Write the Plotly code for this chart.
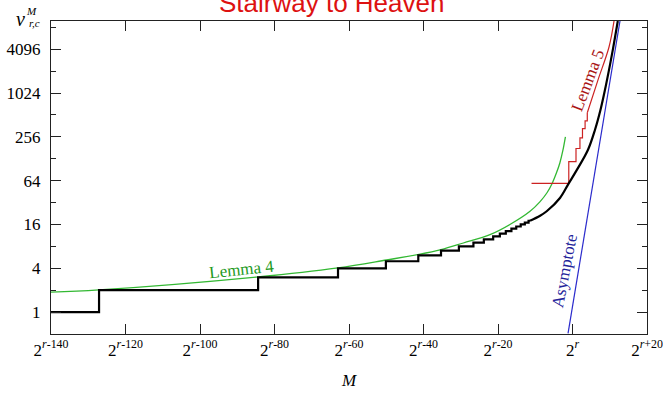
import math
import plotly.graph_objects as go

# x values are exponents e, with M = 2^(r+e); y values are nu^M_{r,c}
x_tick_exps = [-140, -120, -100, -80, -60, -40, -20, 0, 20]
x_tick_text = ["2<sup><i>r</i>-140</sup>", "2<sup><i>r</i>-120</sup>", "2<sup><i>r</i>-100</sup>",
               "2<sup><i>r</i>-80</sup>", "2<sup><i>r</i>-60</sup>", "2<sup><i>r</i>-40</sup>",
               "2<sup><i>r</i>-20</sup>", "2<sup><i>r</i></sup>", "2<sup><i>r</i>+20</sup>"]
y_tick_vals = [1, 4, 16, 64, 256, 1024, 4096]
y_minor_vals = [2, 8, 32, 128, 512, 2048, 8192]

# black staircase (exact value nu)
stair_e = [-140, -127.1, -84.4, -62.95, -50.1, -41.4, -35.3, -30.5, -26.6, -23.8,
           -21.3, -19.5, -17.9, -16.4, -15.1, -13.9, -12.8, -11.8, -11.41]
stair_v = [1, 2, 3, 4, 5, 6, 7, 8, 9, 10, 11, 12, 13, 14, 15, 16, 17, 18, 18]
# black smooth part
black_e = [-11.41, -8.7, -6.93, -3.36, -1.13, 1.21, 4.16, 6.04, 7.52, 8.72, 9.80, 10.82, 12.16]
black_v = [18, 21.1, 24.3, 37, 57.3, 90.6, 170, 320, 603, 1133, 2130, 4006, 10000]

# Lemma 4 bound (green)
green_e = [-140, -127.1, -84.4, -62.95, -49.9, -41.2, -35.3, -29.3, -22.15, -16.8,
           -11.4, -8.7, -6.8, -5.5, -4.3, -3.4, -2.6, -1.9]
green_v = [1.88, 2.02, 3.05, 4.06, 5.2, 6.2, 7.2, 8.9, 11.6, 16,
           24.3, 33, 44, 58, 82, 112, 165, 256]

# Lemma 5 bound (red): staircase then smooth tail
red_step_e = [-11.0, -1.0, 0.94, 2.0, 2.68, 3.38, 3.97]
red_step_v = [58.9, 117, 177, 247, 331, 425, 549]
red_tail_e = [3.97, 6.85, 9.8, 11.15]
red_tail_v = [549, 1552, 4390, 10000]

# Asymptote (blue)
asym_e = [-1.2, 12.75]
asym_v = [0.51, 10000]

GREEN = "#33b833"
RED = "#cc2222"
BLUE = "#2a2acc"
SERIF = "Liberation Serif"

fig = go.Figure()
fig.add_trace(go.Scatter(x=green_e, y=green_v, mode="lines", line=dict(color=GREEN, width=1.3, shape="spline"), showlegend=False))
fig.add_trace(go.Scatter(x=asym_e, y=asym_v, mode="lines", line=dict(color=BLUE, width=1.2), showlegend=False))
fig.add_trace(go.Scatter(x=red_step_e, y=red_step_v, mode="lines", line=dict(color=RED, width=1.2, shape="hv"), showlegend=False))
fig.add_trace(go.Scatter(x=red_tail_e, y=red_tail_v, mode="lines", line=dict(color=RED, width=1.2, shape="spline"), showlegend=False))
fig.add_trace(go.Scatter(x=stair_e, y=stair_v, mode="lines", line=dict(color="black", width=2.2, shape="hv"), showlegend=False))
fig.add_trace(go.Scatter(x=black_e, y=black_v, mode="lines", line=dict(color="black", width=2.2, shape="spline"), showlegend=False))

L = 51
W = 596
T = 21
H = 313

def px(xp):
    return (xp - L) / W

def py(yp):
    return (T + H - yp) / H

def note(text, x, y, size, color, angle=0, family=SERIF):
    return dict(text=text, xref="paper", yref="paper", x=px(x), y=py(y), xanchor="center",
                yanchor="middle", showarrow=False, textangle=angle,
                font=dict(family=family, size=size, color=color))

annotations = [
    note("Stairway to Heaven", 331.5, 3, 26, "#dd1111", family="Liberation Sans"),
    note("Lemma 4", 241, 269, 17, "#229922", -6),
    note("Lemma 5", 587.5, 80, 17, "#aa1515", -69),
    note("Asymptote", 564, 271, 17, "#22229a", -79),
    note("<i>ν</i>", 20, 19, 20, "black"),
    note("<i>M</i>", 31, 11, 11, "black"),
    note("<i>r,c</i>", 34, 23, 11, "black"),
    note("<i>M</i>", 349, 380, 17, "black"),
]

fig.update_layout(
    width=663, height=394,
    margin=dict(l=L, r=663 - L - W, t=T, b=394 - T - H, autoexpand=False),
    plot_bgcolor="white", paper_bgcolor="white",
    annotations=annotations,
    xaxis=dict(range=[-140, 20], tickmode="array", tickvals=x_tick_exps, ticktext=x_tick_text,
               automargin=False,
               ticks="inside", ticklen=10, tickwidth=1.2, tickcolor="#222",
               showline=True, linecolor="#222", linewidth=1.4, mirror="ticks",
               showgrid=False, zeroline=False,
               tickfont=dict(family=SERIF, size=17, color="black")),
    yaxis=dict(type="log", range=[math.log10(0.5), 4], tickmode="array", tickvals=y_tick_vals,
               ticktext=[str(v) for v in y_tick_vals], automargin=False,
               ticks="inside", ticklen=10, tickwidth=1.2, tickcolor="#222",
               ticklabelstandoff=6,
               minor=dict(tickmode="array", tickvals=y_minor_vals, ticks="inside", ticklen=5, tickwidth=1.2, tickcolor="#222", showgrid=False),
               showline=True, linecolor="#222", linewidth=1.4, mirror="ticks",
               showgrid=False, zeroline=False,
               tickfont=dict(family=SERIF, size=17, color="black")),
)

fig.write_html("out.html", config={"displayModeBar": False},
               post_script="document.body.style.margin='0px';document.body.style.overflow='hidden';")
